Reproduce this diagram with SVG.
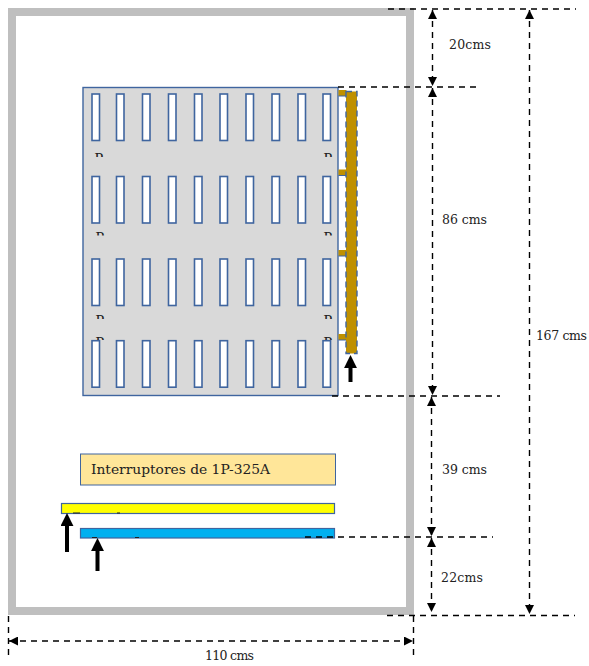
<svg xmlns="http://www.w3.org/2000/svg" xmlns:xlink="http://www.w3.org/1999/xlink" width="589" height="666" viewBox="0 0 589 666">
<style>
.t{font-family:"DejaVu Serif","Liberation Serif",serif;font-size:12.5px;fill:#222}
.m{font-family:"Liberation Serif",serif;font-size:16px;fill:#222}
.s{fill:#fff;stroke:#3f659f;stroke-width:1.6}
.d{fill:none;stroke:#000;stroke-width:1.4;stroke-dasharray:6 5}
.a{fill:none;stroke:#000;stroke-width:4}
.b{fill:#bf9000}
</style>
<defs>
<marker id="h" viewBox="0 0 10 10" refX="10" refY="5" markerWidth="9" markerHeight="9" markerUnits="userSpaceOnUse" orient="auto-start-reverse"><path d="M0 0L10 5L0 10z" fill="#000"/></marker>
<marker id="k" viewBox="0 0 10 10" refX="2" refY="5" markerWidth="13" markerHeight="13" markerUnits="userSpaceOnUse" orient="auto"><path d="M0 0L10 5L0 10z" fill="#000"/></marker>
<rect id="sl" class="s" width="7.5" height="46.5"/>
<g id="row"><use xlink:href="#sl" x="92"/><use xlink:href="#sl" x="116.500"/><use xlink:href="#sl" x="142.500"/><use xlink:href="#sl" x="168.500"/><use xlink:href="#sl" x="194.500"/><use xlink:href="#sl" x="220"/><use xlink:href="#sl" x="246"/><use xlink:href="#sl" x="272"/><use xlink:href="#sl" x="298"/><use xlink:href="#sl" x="323"/></g>
<clipPath id="c1"><rect x="90" y="152" width="250" height="5"/></clipPath>
<clipPath id="c2"><rect x="90" y="231" width="250" height="4.500"/></clipPath>
<clipPath id="c3"><rect x="90" y="314" width="250" height="5"/></clipPath>
<clipPath id="c4"><rect x="90" y="336" width="250" height="4"/></clipPath>
</defs>
<g id="frame"><rect x="12" y="12" width="398" height="599" fill="#fff" stroke="#bfbfbf" stroke-width="8"/></g>
<g id="panel">
<rect x="83" y="87.500" width="255" height="308" fill="#d9d9d9" stroke="#3f659f" stroke-width="1.4"/>
<use xlink:href="#row" y="94"/><use xlink:href="#row" y="176.500"/><use xlink:href="#row" y="259"/><use xlink:href="#row" y="340.700"/>
<g class="m"><text x="94.500" y="164" clip-path="url(#c1)">P</text><text x="323.500" y="164" clip-path="url(#c1)">P</text>
<text x="95.500" y="243" clip-path="url(#c2)">P</text><text x="323.500" y="243" clip-path="url(#c2)">P</text>
<text x="95.500" y="326" clip-path="url(#c3)">P</text><text x="323.500" y="326" clip-path="url(#c3)">P</text>
<text x="95.500" y="347.500" clip-path="url(#c4)">P</text><text x="323.500" y="347.500" clip-path="url(#c4)">P</text></g>
</g>
<g id="bus">
<rect class="b" x="338.500" y="90" width="8" height="6"/><rect class="b" x="338.500" y="169.500" width="8" height="6"/><rect class="b" x="338.500" y="250" width="8" height="6"/><rect class="b" x="338.500" y="334" width="8" height="6"/>
<path d="M338.500 96H346M338.500 175.500H346M338.500 256H346M338.500 340H346" stroke="#3f659f" stroke-width="1"/>
<rect class="b" x="346" y="91.500" width="11" height="262" stroke="#3f659f" stroke-width="1.4" stroke-dasharray="6 4"/>
</g>
<g id="interruptores"><rect x="80.500" y="454" width="255" height="31" fill="#ffe699" stroke="#3f659f" stroke-width="1"/><text class="t" x="91" y="474" textLength="179" lengthAdjust="spacingAndGlyphs">Interruptores de 1P-325A</text></g>
<g id="barra-amarilla"><rect x="61.500" y="503.500" width="273" height="10" fill="#ff0" stroke="#3f659f" stroke-width="1.2"/><path d="M73 513H80M117 513H120" stroke="#222" stroke-width="1"/></g>
<g id="barra-azul"><rect x="80.500" y="528.500" width="254" height="9.500" fill="#00b0f0" stroke="#3f659f" stroke-width="1.2"/><path d="M92 537.500H97M135 537.500H139" stroke="#222" stroke-width="1"/></g>
<g id="connectors">
<path class="d" d="M388 9H576M338 87H480M332 396H500M305 537H493M387 615.500H575"/>
<path class="d" d="M8.500 616V660M413.500 616V660"/>
<path class="d" marker-start="url(#h)" marker-end="url(#h)" d="M432.500 10V86"/>
<path class="d" marker-start="url(#h)" marker-end="url(#h)" d="M432.500 88V395"/>
<path class="d" marker-start="url(#h)" marker-end="url(#h)" d="M431.500 397V536"/>
<path class="d" marker-start="url(#h)" marker-end="url(#h)" d="M431.500 538V612"/>
<path class="d" marker-start="url(#h)" marker-end="url(#h)" d="M529.500 10V614"/>
<path class="d" marker-start="url(#h)" marker-end="url(#h)" d="M9 641H413"/>
<path class="a" marker-end="url(#k)" d="M350.500 382V365.500"/>
<path class="a" marker-end="url(#k)" d="M67 552V523.500"/>
<path class="a" marker-end="url(#k)" d="M97.500 571V548.500"/>
</g>
<g id="labels" class="t">
<text x="449" y="49" textLength="42">20cms</text>
<text x="442" y="224" textLength="45">86 cms</text>
<text x="442" y="474" textLength="45">39 cms</text>
<text x="441" y="582" textLength="42">22cms</text>
<text x="536" y="340" textLength="51">167 cms</text>
<text x="205" y="660" textLength="49">110 cms</text>
</g>
</svg>
